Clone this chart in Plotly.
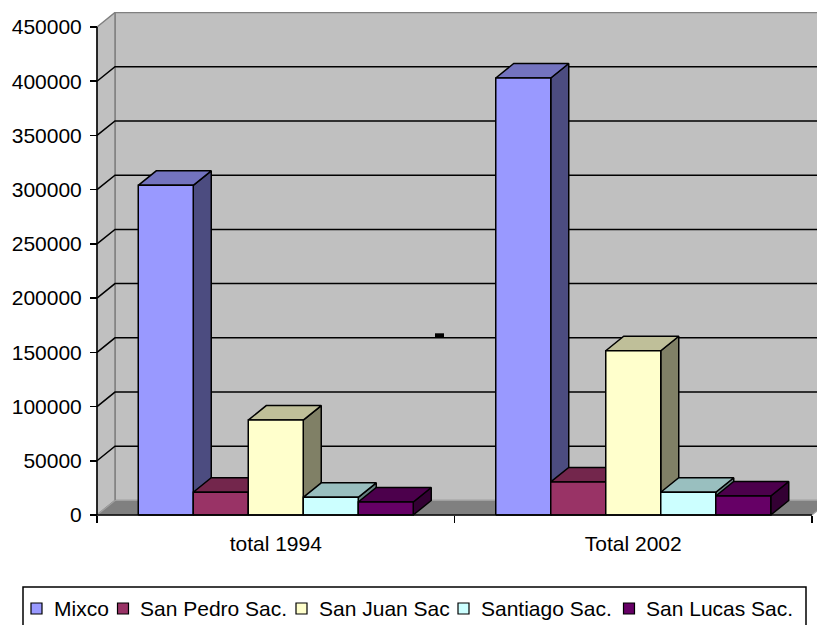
import plotly.graph_objects as go

# ---------------- data ----------------
categories = ["total 1994", "Total 2002"]
series_names = ["Mixco", "San Pedro Sac.", "San Juan Sac", "Santiago Sac.", "San Lucas Sac."]
mixco = [304000, 403000]
san_pedro = [21000, 30500]
san_juan = [87500, 151500]
santiago = [16300, 21000]
san_lucas = [12000, 17500]
y_ticks = [0, 50000, 100000, 150000, 200000, 250000, 300000, 350000, 400000, 450000]
series_values = [mixco, san_pedro, san_juan, santiago, san_lucas]
front_colors = ["#9999FF", "#993366", "#FFFFCC", "#CCFFFF", "#660066"]

# ---------------- layout constants (pixels) ----------------
W, H = 817, 625
PL, PR, PT, PB = 88, 817, 12, 522      # plot area box
AX0, AX1 = 97, 812                      # front category axis ends
Y0PX, YTOPPX = 515, 27                  # pixel of 0 and of top tick
DEPTH_X, DEPTH_Y = 18, 14.5             # 3-D depth offset
FONT = "Liberation Sans, Arial, sans-serif"
FS = 21

ncat = len(categories)
nser = len(series_values)
ux = (AX1 - AX0) / ncat
uy = (Y0PX - YTOPPX) / y_ticks[-1]
xr = [-0.5 - (AX0 - PL) / ux, -0.5 + (PR - AX0) / ux]
yr = [-(PB - Y0PX) / uy, (Y0PX - PT) / uy]
dxu = DEPTH_X / ux
dyu = DEPTH_Y / uy
xL, xRt = -0.5, ncat - 0.5
ymax = y_ticks[-1]


def shade(hexcol, f):
    h = hexcol.lstrip("#")
    r, g, b = (int(h[i:i + 2], 16) for i in (0, 2, 4))
    return "rgb(%d,%d,%d)" % (round(r * f), round(g * f), round(b * f))


def poly(xs, ys, fill, line="black", lw=1.5):
    return go.Scatter(x=list(xs) + [xs[0]], y=list(ys) + [ys[0]], mode="lines",
                      fill="toself", fillcolor=fill,
                      line=dict(color=line, width=lw),
                      hoverinfo="skip", showlegend=False)


fig = go.Figure()

# walls and floor
fig.add_trace(poly([xL + dxu, xRt + dxu, xRt + dxu, xL + dxu],
                   [dyu, dyu, ymax + dyu, ymax + dyu], "#C0C0C0", "#808080", 1.5))
fig.add_trace(poly([xL, xL + dxu, xL + dxu, xL],
                   [0, dyu, ymax + dyu, ymax], "#C0C0C0", "#808080", 1.5))
fig.add_trace(poly([xL, xRt, xRt + dxu, xL + dxu],
                   [0, 0, dyu, dyu], "#808080", "#A0A0A0", 1.2))

# gridlines on walls
gx, gy = [], []
for v in y_ticks[1:-1]:
    gx += [xL, xL + dxu, xRt + dxu, None]
    gy += [v, v + dyu, v + dyu, None]
fig.add_trace(go.Scatter(x=gx, y=gy, mode="lines", line=dict(color="black", width=1.5),
                         hoverinfo="skip", showlegend=False))

# 3-D bars
gap = 1.5
w = 1.0 / (nser + gap)
for ci in range(ncat):
    for si in range(nser):
        v = series_values[si][ci]
        x0 = ci - nser * w / 2 + si * w
        x1 = x0 + w
        c = front_colors[si]
        # side
        fig.add_trace(poly([x1, x1 + dxu, x1 + dxu, x1], [0, dyu, v + dyu, v], shade(c, 0.5)))
        # top
        fig.add_trace(poly([x0, x1, x1 + dxu, x0 + dxu], [v, v, v + dyu, v + dyu], shade(c, 0.75)))
        # front
        fig.add_trace(poly([x0, x1, x1, x0], [0, 0, v, v], c))

# front axis lines
fig.add_trace(go.Scatter(x=[xL, xL, None, xL, xRt], y=[ymax, 0, None, 0, 0], mode="lines",
                         line=dict(color="black", width=1.5), hoverinfo="skip", showlegend=False))


def px_x(p):
    return (p - PL) / (PR - PL)


def px_y(p):
    return (PB - p) / (PB - PT)


shapes = []
annotations = []
# small stray mark on the back wall
shapes.append(dict(type="rect", xref="paper", yref="paper",
                   x0=px_x(435), x1=px_x(444), y0=px_y(337.5), y1=px_y(333.3),
                   fillcolor="black", line=dict(width=0)))

# legend (drawn manually)
LEG_TOP, LEG_BOT, LEG_L, LEG_R = 587, 630, 23, 806
shapes.append(dict(type="rect", xref="paper", yref="paper",
                   x0=px_x(LEG_L), x1=px_x(LEG_R), y0=px_y(LEG_BOT), y1=px_y(LEG_TOP),
                   fillcolor="white", line=dict(color="black", width=1.5)))
item_x = [31, 117.5, 296, 458, 623.5]
ly = 608.5
for i, name in enumerate(series_names):
    sx = item_x[i]
    shapes.append(dict(type="rect", xref="paper", yref="paper",
                       x0=px_x(sx), x1=px_x(sx + 11), y0=px_y(ly + 5.5), y1=px_y(ly - 5.5),
                       fillcolor=front_colors[i], line=dict(color="black", width=1.2)))
    annotations.append(dict(xref="paper", yref="paper", x=px_x(sx + 20.5), y=px_y(ly),
                            xanchor="left", yanchor="middle", showarrow=False, text=name,
                            font=dict(family=FONT, size=FS, color="black")))

fig.update_layout(
    width=W, height=H, autosize=False,
    margin=dict(l=PL, r=W - PR, t=PT, b=H - PB, pad=0),
    paper_bgcolor="white", plot_bgcolor="white",
    font=dict(family=FONT, size=FS, color="black"),
    showlegend=False, hovermode=False,
    shapes=shapes, annotations=annotations,
    xaxis=dict(range=xr, showgrid=False, zeroline=False, showline=False,
               tickmode="array", tickvals=list(range(ncat)), ticktext=categories,
               ticks="", ticklabelstandoff=14,
               tickfont=dict(family=FONT, size=FS, color="black"),
               anchor="free", position=(PB - Y0PX) / (PB - PT),
               minor=dict(tickmode="array", tickvals=[i - 0.5 for i in range(ncat + 1)],
                          ticks="outside", ticklen=7, tickwidth=1.5, tickcolor="black")),
    yaxis=dict(range=yr, showgrid=False, zeroline=False, showline=False,
               tickmode="array", tickvals=y_ticks, ticktext=[str(v) for v in y_ticks],
               ticks="outside", ticklen=7, tickwidth=1.5, tickcolor="black",
               ticklabelstandoff=4,
               tickfont=dict(family=FONT, size=FS, color="black"),
               anchor="free", position=(AX0 - PL) / (PR - PL)),
)

fig.write_html(
    "out.html",
    config={"displayModeBar": False, "staticPlot": True},
    post_script="document.body.style.margin='0';document.body.style.padding='0';"
                "document.body.style.overflow='hidden';",
)
